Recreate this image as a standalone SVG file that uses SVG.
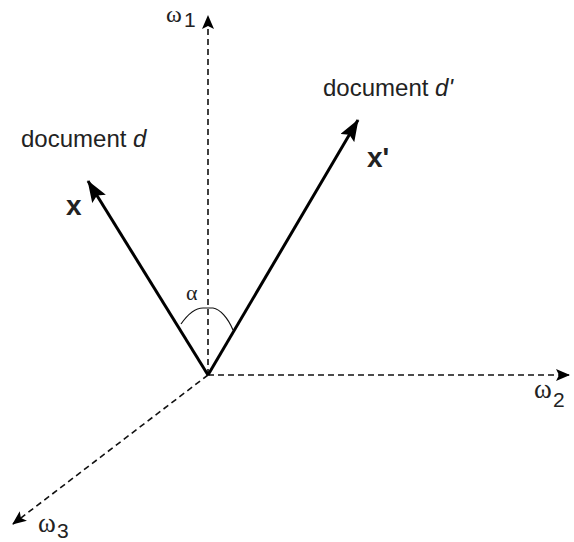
<svg xmlns="http://www.w3.org/2000/svg" width="574" height="542" viewBox="0 0 574 542">
<style>
.axis{stroke:#111;stroke-width:1.6;stroke-dasharray:6,4;fill:none}
.vec{stroke:#000;stroke-width:3;fill:none}
.lbl{font-family:"Liberation Sans",Arial,sans-serif;fill:#222}
.om{font-family:"Liberation Serif","Times New Roman",serif;fill:#222}
</style>
<defs>
<marker id="ah" viewBox="0 0 14 12" refX="13" refY="6" markerWidth="14" markerHeight="12" markerUnits="userSpaceOnUse" orient="auto"><path d="M0,0 L14,6 L0,12 L3,6 Z" fill="#000"/></marker>
<marker id="vh" viewBox="0 0 22 16" refX="21" refY="8" markerWidth="22" markerHeight="16" markerUnits="userSpaceOnUse" orient="auto"><path d="M0,0 L22,8 L0,16 L4,8 Z" fill="#000"/></marker>
</defs>
<rect width="574" height="542" fill="#fff"/>
<g id="connectors">
<line class="axis" x1="208" y1="375" x2="208" y2="16" marker-end="url(#ah)"/>
<line class="axis" x1="208" y1="375" x2="569" y2="375" marker-end="url(#ah)"/>
<line class="axis" x1="208" y1="375" x2="13" y2="524" marker-end="url(#ah)"/>
<line class="vec" x1="208" y1="375" x2="88" y2="181" marker-end="url(#vh)"/>
<line class="vec" x1="208" y1="375" x2="358" y2="120" marker-end="url(#vh)"/>
<path d="M181,324 C188,314 196,308 203,308 L213,308 C220,309 228,318 233,330" stroke="#111" stroke-width="1.2" fill="none"/>
</g>
<g id="omega1"><text class="om" x="166" y="22" font-size="24">ω</text><text class="lbl" x="184" y="27" font-size="21">1</text></g>
<g id="omega2"><text class="om" x="534" y="398" font-size="27">ω</text><text class="lbl" x="553" y="407" font-size="21">2</text></g>
<g id="omega3"><text class="om" x="38" y="532" font-size="27">ω</text><text class="lbl" x="57" y="538" font-size="21">3</text></g>
<g id="alpha"><text class="om" x="186" y="300" font-size="22" fill="#555">α</text></g>
<g id="doc-d"><text class="lbl" font-size="24" x="21" y="147">document <tspan font-style="italic">d</tspan></text></g>
<g id="doc-d2"><text class="lbl" font-size="24" x="323" y="96">document <tspan font-style="italic">d'</tspan></text></g>
<g id="x"><text class="lbl" font-size="28" font-weight="bold" x="66" y="215" fill="#000">x</text></g>
<g id="x2"><text class="lbl" font-size="28" font-weight="bold" x="367" y="167" fill="#000">x'</text></g>
</svg>
